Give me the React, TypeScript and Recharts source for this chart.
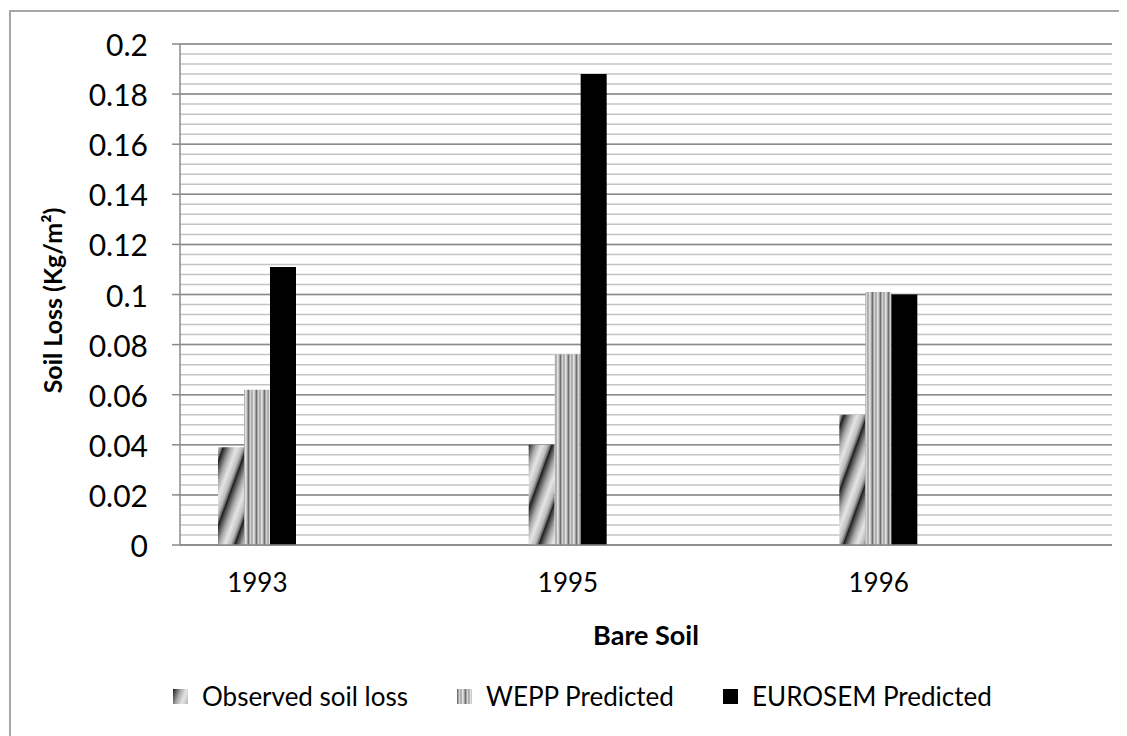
import React from 'react';
import { BarChart, Bar, XAxis, YAxis, CartesianGrid } from 'recharts';

const years = ['1993', '1995', '1996'];
const observedLoss = [0.039, 0.04, 0.052];
const weppPredicted = [0.062, 0.076, 0.101];
const eurosemPredicted = [0.111, 0.188, 0.1];

const majorTicks = [0, 0.02, 0.04, 0.06, 0.08, 0.1, 0.12, 0.14, 0.16, 0.18, 0.2];
const minorTicks = [
  0, 0.004, 0.008, 0.012, 0.016, 0.02, 0.024, 0.028, 0.032, 0.036, 0.04, 0.044, 0.048,
  0.052, 0.056, 0.06, 0.064, 0.068, 0.072, 0.076, 0.08, 0.084, 0.088, 0.092, 0.096, 0.1,
  0.104, 0.108, 0.112, 0.116, 0.12, 0.124, 0.128, 0.132, 0.136, 0.14, 0.144, 0.148, 0.152,
  0.156, 0.16, 0.164, 0.168, 0.172, 0.176, 0.18, 0.184, 0.188, 0.192, 0.196, 0.2,
];
const tickLabels = ['0', '0.02', '0.04', '0.06', '0.08', '0.1', '0.12', '0.14', '0.16', '0.18', '0.2'];
const yMax = 0.2;

// the original sheet had extra empty series, which pushes the bars to the left of each category
const emptySeries = ['e1', 'e2', 'e3', 'e4', 'e5', 'e6'];

const data = years.map((y, i) => ({
  year: y,
  observed: observedLoss[i],
  wepp: weppPredicted[i],
  eurosem: eurosemPredicted[i],
}));

const FONT = 'Lato, "Open Sans", sans-serif';

const PatternDefs = ({ id }: { id: string }) => (
  <defs>
    <linearGradient id={`diagGrad-${id}`} x1="0" y1="0" x2="1" y2="0">
      <stop offset="0%" stopColor="#111" />
      <stop offset="10%" stopColor="#444" />
      <stop offset="35%" stopColor="#aaa" />
      <stop offset="60%" stopColor="#e6e6e6" />
      <stop offset="85%" stopColor="#bbb" />
      <stop offset="100%" stopColor="#555" />
    </linearGradient>
    <pattern id={`diag-${id}`} patternUnits="userSpaceOnUse" width="22" height="22" patternTransform="rotate(20)">
      <rect width="22" height="22" fill={`url(#diagGrad-${id})`} />
    </pattern>
    <linearGradient id={`vertGrad-${id}`} x1="0" y1="0" x2="1" y2="0">
      <stop offset="0%" stopColor="#555" />
      <stop offset="30%" stopColor="#d8d8d8" />
      <stop offset="50%" stopColor="#9a9a9a" />
      <stop offset="72%" stopColor="#eeeeee" />
      <stop offset="100%" stopColor="#888" />
    </linearGradient>
    <pattern id={`vert-${id}`} patternUnits="userSpaceOnUse" width="8" height="8">
      <rect width="8" height="8" fill={`url(#vertGrad-${id})`} />
    </pattern>
  </defs>
);

// minor gridlines every 0.004, mapped through the y scale when it is available
const minorLines = (props: any) => {
  const scale = props?.yAxis?.scale;
  if (typeof scale === 'function') return minorTicks.map((t) => scale(t));
  const { offset } = props;
  return minorTicks.map((t) => offset.top + offset.height * (1 - t / yMax));
};

const XTick = (props: any) => {
  const { x, y, payload } = props;
  return (
    <text x={x - 78} y={y + 29} textAnchor="middle" dominantBaseline="central" fontSize={26} fontFamily={FONT} fill="#000">
      {payload.value}
    </text>
  );
};

const YTick = (props: any) => {
  const { x, y, payload } = props;
  const idx = majorTicks.indexOf(payload.value);
  return (
    <text x={x} y={y} textAnchor="end" dominantBaseline="central" fontSize={30} fontFamily={FONT} fill="#000">
      {idx >= 0 ? tickLabels[idx] : payload.value}
    </text>
  );
};

const YTitle = (props: any) => {
  const { viewBox } = props;
  const cy = viewBox.y + viewBox.height / 2 + 6;
  const cx = 44;
  return (
    <text
      x={cx}
      y={cy}
      transform={`rotate(-90, ${cx}, ${cy})`}
      textAnchor="middle"
      dominantBaseline="central"
      fontFamily={FONT}
      fontSize={25}
      fontWeight={700}
      fill="#000"
    >
      Soil Loss (Kg/m²)
    </text>
  );
};

const legendItems = [
  { name: 'Observed soil loss', fill: 'url(#diag-lg)', left: 165 },
  { name: 'WEPP Predicted', fill: 'url(#vert-lg)', left: 449 },
  { name: 'EUROSEM Predicted', fill: '#000', left: 715 },
];

export default function App() {
  return (
    <div style={{ position: 'relative', width: 1119, height: 728, overflow: 'hidden', background: '#fff' }}>
      <div
        style={{
          position: 'absolute',
          left: 1,
          top: 2,
          width: 1200,
          height: 800,
          borderLeft: '2px solid #a6a6a6',
          borderTop: '2px solid #a6a6a6',
        }}
      />
      <div style={{ position: 'absolute', left: 0, top: 0 }}>
        <BarChart
          width={1119}
          height={728}
          data={data}
          margin={{ top: 36, right: 15, bottom: 131, left: 0 }}
          barCategoryGap={38}
          barGap={0}
        >
          <PatternDefs id="ch" />
          <CartesianGrid vertical={false} stroke="#c4c4c4" strokeWidth={1.5} horizontalCoordinatesGenerator={minorLines} />
          <CartesianGrid vertical={false} stroke="#8a8a8a" strokeWidth={1.5} />
          <XAxis
            dataKey="year"
            height={60}
            axisLine={{ stroke: '#8a8a8a', strokeWidth: 1.5 }}
            tickLine={false}
            tick={<XTick />}
            label={{
              value: 'Bare Soil',
              position: 'bottom',
              offset: 21,
              style: { fontFamily: FONT, fontSize: 27, fontWeight: 700, fill: '#000' },
            }}
          />
          <YAxis
            width={172}
            domain={[0, yMax]}
            ticks={majorTicks}
            interval={0}
            tickSize={8}
            tickMargin={24}
            axisLine={{ stroke: '#8a8a8a', strokeWidth: 1.5 }}
            tickLine={{ stroke: '#8a8a8a', strokeWidth: 1.5 }}
            tick={<YTick />}
            label={<YTitle />}
          />
          <Bar dataKey="observed" fill="url(#diag-ch)" isAnimationActive={false} />
          <Bar dataKey="wepp" fill="url(#vert-ch)" isAnimationActive={false} />
          <Bar dataKey="eurosem" fill="#000" isAnimationActive={false} />
          {emptySeries.map((k) => (
            <Bar key={k} dataKey={k} fill="none" isAnimationActive={false} />
          ))}
        </BarChart>
      </div>
      {legendItems.map((it) => (
        <div
          key={it.name}
          style={{
            position: 'absolute',
            left: it.left,
            top: 672,
            display: 'flex',
            alignItems: 'center',
            gap: 14,
            fontFamily: FONT,
            fontSize: 26,
            color: '#000',
            whiteSpace: 'nowrap',
          }}
        >
          <svg width={15} height={15}>
            <PatternDefs id="lg" />
            <rect width={15} height={15} fill={it.fill} />
          </svg>
          <span>{it.name}</span>
        </div>
      ))}
    </div>
  );
}
